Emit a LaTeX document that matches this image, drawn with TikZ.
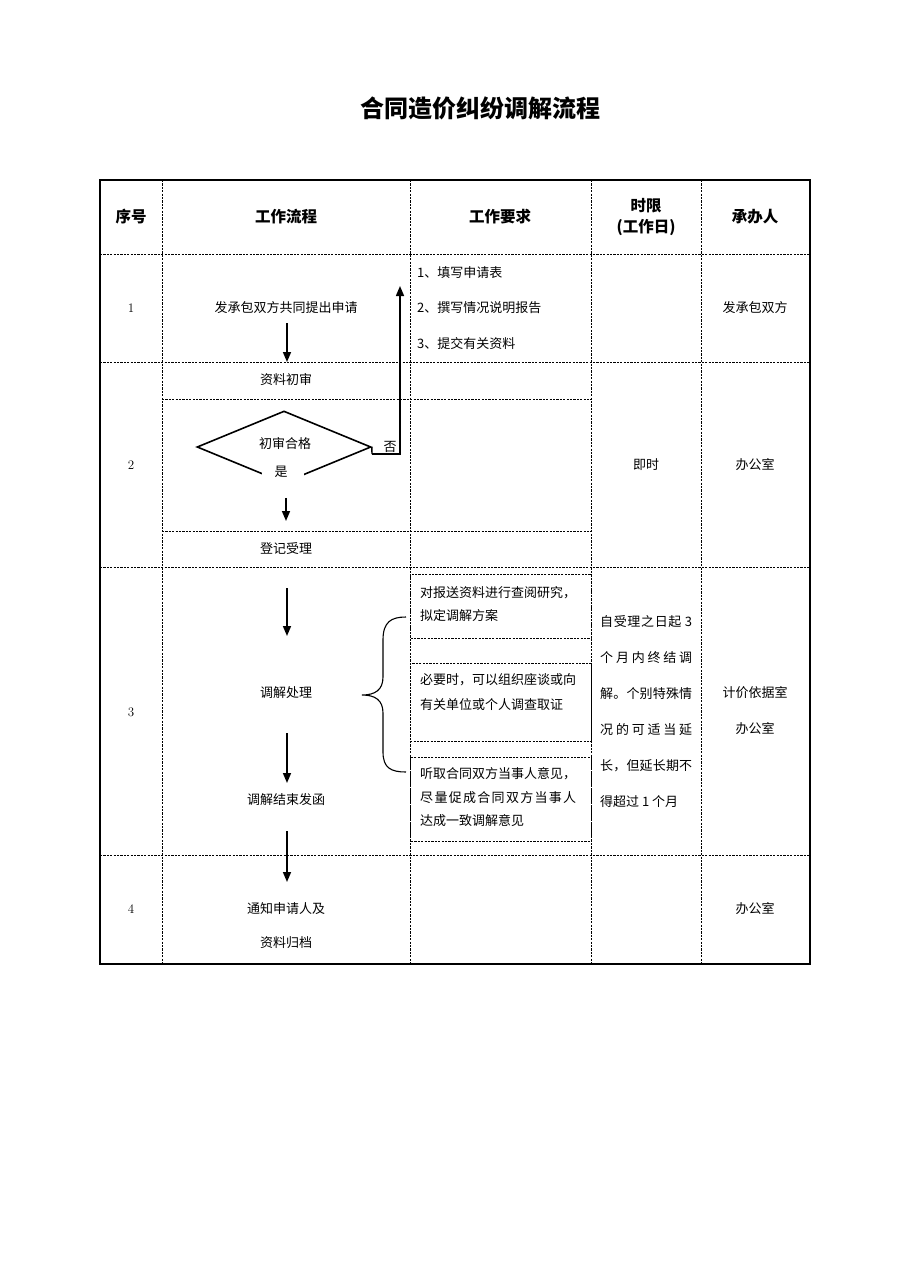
\documentclass[tikz,border=0pt]{standalone}
\usepackage{fontspec}
\newfontfamily\cjk{Noto Sans CJK SC}
\usetikzlibrary{shapes.geometric,arrows.meta}
\begin{document}
\begin{tikzpicture}[x=1pt,y=-1pt,
  grid/.style={line width=0.9pt, dash pattern=on 2.2pt off 1.2pt},
  frame/.style={line width=2.6pt},
  txt/.style={font=\cjk\fontsize{13}{15}\selectfont, inner sep=1pt},
  hd/.style={font=\cjk\bfseries\fontsize{15.5}{19}\selectfont, align=center, inner sep=1pt},
  num/.style={font=\fontsize{13}{15}\selectfont, inner sep=1pt},
  lt/.style={txt, anchor=west},
  arr/.style={line width=1.5pt, -{Triangle[length=10pt,width=8pt]}}]

\fill[white] (0,0) rectangle (910,1287);
\useasboundingbox (0,0) rectangle (910,1287);

% title
\node[font=\cjk\bfseries\fontsize{24}{28}\selectfont] (title) at (480,108) {合同造价纠纷调解流程};

% table grid
\draw[grid] (100,254) -- (810,254);
\draw[grid] (100,362) -- (810,362);
\draw[grid] (100,567) -- (810,567);
\draw[grid] (100,855) -- (810,855);
\draw[grid] (162,399) -- (591,399);
\draw[grid] (162,531) -- (591,531);
\draw[grid] (162,180) -- (162,964);
\draw[grid] (410,180) -- (410,964);
\draw[grid] (591,180) -- (591,964);
\draw[grid] (701,180) -- (701,964);
\draw[grid] (410,574) rectangle (591,638);
\draw[grid] (410,663) rectangle (591,741);
\draw[grid] (410,757) rectangle (591,841);
\draw[frame] (100,180) rectangle (810,964);

% header
\node[hd] (h1) at (131,217) {序号};
\node[hd] (h2) at (286,217) {工作流程};
\node[hd] (h3) at (500,217) {工作要求};
\node[hd] (h4) at (646,217) {时限\\[2pt](工作日)};
\node[hd] (h5) at (755,217) {承办人};

% row 1
\node[num] (n1) at (131,308) {1};
\node[txt] (a1) at (286,308) {发承包双方共同提出申请};
\node[lt] (r11) at (416,273) {1、填写申请表};
\node[lt] (r12) at (416,308) {2、撰写情况说明报告};
\node[lt] (r13) at (416,344) {3、提交有关资料};
\node[txt] (o1) at (755,308) {发承包双方};
\coordinate (a1e) at (287,362);
\draw[arr] (a1) ++(1,15) -- (a1e);

% row 2
\node[num] (n2) at (131,465) {2};
\node[txt] (a2) at (286,380) {资料初审};
\node[diamond, draw, line width=1.6pt, minimum width=174pt, minimum height=72pt, inner sep=0pt] (d) at (284,447) {};
\fill[white] (262,466) rectangle (304,490);
\node[txt] (dt) at (285,444) {初审合格};
\node[txt] (yes) at (281,472) {是};
\node[txt] (no) at (390,447) {否};
\coordinate (nE) at (372,454);
\coordinate (nC) at (400,454);
\coordinate (nUp) at (400,286);
\draw[line width=1.4pt] (d.east) -- (nE);
\draw[arr] (nE) -- (nC) -- (nUp);
\node[txt] (a3) at (286,549) {登记受理};
\coordinate (de) at (286,521);
\draw[arr] (d.south) ++(2,14) -- (de);
\node[txt] (t2) at (646,465) {即时};
\node[txt] (o2) at (755,465) {办公室};

% row 3
\node[num] (n3) at (131,712) {3};
\node[txt] (p3) at (286,693) {调解处理};
\node[txt] (p4) at (286,800) {调解结束发函};
\coordinate (p3s) at (287,588);
\draw[arr] (p3s) -- (287,636);
\draw[arr] (p3) ++(1,40) -- (287,783);
\coordinate (p4e) at (287,882);
\draw[arr] (p4) ++(1,31) -- (p4e);
\draw[line width=1.1pt] (406,617) .. controls (391,617) and (383,622) .. (383,640) -- (383,677) .. controls (383,690) and (375,695) .. (362,695) .. controls (375,695) and (383,700) .. (383,713) -- (383,752) .. controls (383,768) and (391,772) .. (406,772);

\node[lt] (b11) at (419,593) {对报送资料进行查阅研究，};
\node[lt] (b12) at (419,616) {拟定调解方案};
\node[lt] (b21) at (419,680) {必要时，可以组织座谈或向};
\node[lt] (b22) at (419,705) {有关单位或个人调查取证};
\node[lt] (b31) at (419,774) {听取合同双方当事人意见，};
\node[lt] (b32) at (419,798) {\hbox to 156pt{尽\hfill 量\hfill 促\hfill 成\hfill 合\hfill 同\hfill 双\hfill 方\hfill 当\hfill 事\hfill 人}};
\node[lt] (b33) at (419,821) {达成一致调解意见};

\node[lt] (t31) at (599,622) {\hbox to 92pt{自\hfill 受\hfill 理\hfill 之\hfill 日\hfill 起\hfill\ 3}};
\node[lt] (t32) at (599,658) {\hbox to 92pt{个\hfill 月\hfill 内\hfill 终\hfill 结\hfill 调}};
\node[lt] (t33) at (599,694) {\hbox to 92pt{解\hfill 。\hfill 个\hfill 别\hfill 特\hfill 殊\hfill 情}};
\node[lt] (t34) at (599,730) {\hbox to 92pt{况\hfill 的\hfill 可\hfill 适\hfill 当\hfill 延}};
\node[lt] (t35) at (599,766) {\hbox to 92pt{长\hfill ，\hfill 但\hfill 延\hfill 长\hfill 期\hfill 不}};
\node[lt] (t36) at (599,802) {得超过 1 个月};

\node[txt] (o31) at (755,693) {计价依据室};
\node[txt] (o32) at (755,729) {办公室};

% row 4
\node[num] (n4) at (131,909) {4};
\node[txt] (p5) at (286,909) {通知申请人及};
\node[txt] (p6) at (286,943) {资料归档};
\node[txt] (o4) at (755,909) {办公室};
\end{tikzpicture}
\end{document}
